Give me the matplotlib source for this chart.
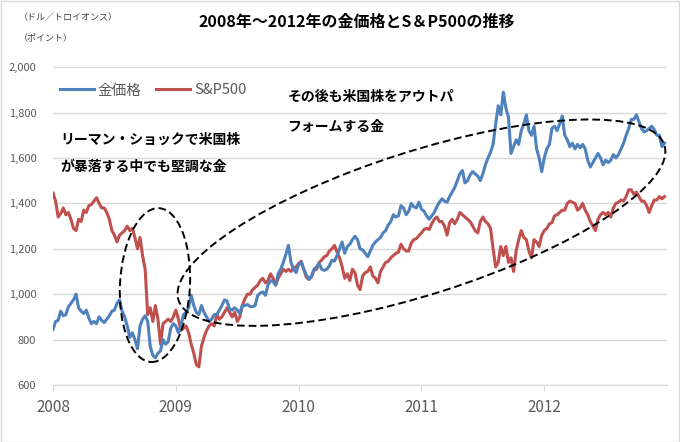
import numpy as np
import matplotlib
matplotlib.use("Agg")
from matplotlib import pyplot as plt
from matplotlib.patches import Ellipse, Rectangle
from matplotlib.transforms import IdentityTransform

plt.rcParams['font.family'] = ['Noto Sans CJK JP', 'DejaVu Sans']

# weekly-ish readings (4 per month), per year
years = [2008, 2009, 2010, 2011, 2012]

gold_2008 = [845, 880, 885, 925, 905, 910, 945, 960, 975, 1000, 940, 925,
             915, 930, 895, 870, 880, 870, 900, 885, 875, 890, 905, 925,
             930, 960, 975, 925, 900, 860, 810, 830, 800, 760, 860, 890,
             905, 880, 770, 730, 720, 740, 750, 800, 780, 790, 850, 870]
gold_2009 = [860, 830, 860, 910, 920, 940, 995, 950, 920, 910, 950, 920,
             900, 880, 890, 910, 910, 930, 950, 975, 970, 935, 930, 940,
             930, 915, 950, 950, 955, 945, 945, 950, 995, 1005, 1010, 995,
             1040, 1060, 1055, 1040, 1090, 1110, 1140, 1175, 1215, 1140, 1110, 1095]
gold_2010 = [1130, 1140, 1110, 1085, 1065, 1080, 1110, 1120, 1135, 1110, 1105, 1110,
             1125, 1150, 1145, 1170, 1200, 1230, 1180, 1210, 1220, 1240, 1255, 1240,
             1200, 1195, 1180, 1165, 1190, 1215, 1230, 1240, 1250, 1270, 1280, 1305,
             1320, 1350, 1340, 1345, 1390, 1380, 1350, 1365, 1400, 1385, 1380, 1405]
gold_2011 = [1375, 1365, 1345, 1330, 1345, 1360, 1385, 1405, 1420, 1410, 1405, 1430,
             1450, 1470, 1500, 1530, 1545, 1490, 1500, 1525, 1540, 1530, 1520, 1500,
             1530, 1570, 1600, 1625, 1660, 1750, 1830, 1790, 1890, 1820, 1780, 1620,
             1650, 1680, 1660, 1720, 1750, 1790, 1720, 1700, 1740, 1640, 1600, 1540]
gold_2012 = [1600, 1640, 1660, 1730, 1740, 1720, 1750, 1785, 1700, 1680, 1650, 1665,
             1640, 1660, 1645, 1660, 1640, 1590, 1560, 1580, 1600, 1620, 1600, 1570,
             1590, 1580, 1590, 1615, 1600, 1615, 1640, 1665, 1700, 1730, 1770, 1770,
             1790, 1760, 1730, 1715, 1720, 1730, 1740, 1725, 1700, 1700, 1650, 1665]

sp_2008 = [1445, 1410, 1340, 1355, 1380, 1350, 1360, 1330, 1290, 1280, 1330, 1320,
           1370, 1360, 1390, 1395, 1410, 1425, 1400, 1380, 1380, 1360, 1330, 1280,
           1260, 1230, 1260, 1270, 1280, 1300, 1280, 1290, 1250, 1200, 1250, 1170,
           1110, 910, 940, 880, 950, 890, 780, 870, 880, 890, 880, 900]
sp_2009 = [930, 890, 840, 850, 860, 830, 780, 740, 690, 680, 770, 810,
           840, 860, 870, 860, 910, 890, 900, 920, 940, 920, 900, 920,
           880, 900, 950, 980, 1000, 1000, 1020, 1030, 1040, 1060, 1070, 1050,
           1060, 1090, 1070, 1040, 1070, 1090, 1110, 1100, 1110, 1100, 1115, 1120]
sp_2010 = [1135, 1145, 1110, 1075, 1065, 1075, 1105, 1110, 1140, 1150, 1165, 1170,
           1190, 1200, 1215, 1185, 1160, 1120, 1070, 1090, 1060, 1110, 1095, 1040,
           1020, 1080, 1095, 1100, 1120, 1080, 1070, 1050, 1100, 1120, 1140, 1145,
           1160, 1170, 1180, 1185, 1220, 1200, 1190, 1190, 1225, 1240, 1245, 1258]
sp_2011 = [1270, 1285, 1290, 1285, 1310, 1330, 1340, 1320, 1320, 1300, 1260, 1315,
           1330, 1310, 1330, 1360, 1350, 1340, 1330, 1320, 1300, 1280, 1270, 1320,
           1340, 1320, 1310, 1290, 1200, 1120, 1140, 1210, 1170, 1210, 1140, 1160,
           1100, 1190, 1240, 1280, 1250, 1240, 1190, 1160, 1240, 1230, 1210, 1260]
sp_2012 = [1280, 1290, 1310, 1315, 1345, 1350, 1360, 1370, 1370, 1400, 1410, 1405,
           1400, 1370, 1380, 1400, 1370, 1350, 1320, 1300, 1280, 1330, 1350, 1360,
           1350, 1360, 1340, 1380, 1400, 1405, 1415, 1410, 1430, 1460, 1460, 1440,
           1450, 1430, 1410, 1410, 1390, 1360, 1390, 1415, 1415, 1430, 1420, 1430]

gold = np.array(gold_2008 + gold_2009 + gold_2010 + gold_2011 + gold_2012)
sp = np.array(sp_2008 + sp_2009 + sp_2010 + sp_2011 + sp_2012)
x = years[0] + np.arange(len(gold)) / 48.0

blue = '#4F81BD'
red = '#C0504D'

fig = plt.figure(figsize=(6.8, 4.42), dpi=100)
ax = fig.add_axes([0.078, 0.129, 0.903, 0.719])

ax.plot(x, gold, color=blue, lw=2.2, label='金価格', zorder=3)
ax.plot(x, sp, color=red, lw=2.2, label='S&P500', zorder=2)

ax.set_xlim(2008, 2013)
ax.set_ylim(600, 2000)
ax.set_yticks(range(600, 2001, 200))
ax.set_yticklabels(['{:,}'.format(v) for v in range(600, 2001, 200)], fontsize=8, color='#595959')
ax.set_xticks(years)
ax.set_xticklabels([str(y) for y in years], fontsize=11, color='#595959')
ax.tick_params(axis='y', length=0, pad=12)
ax.tick_params(axis='x', length=4, color='#d9d9d9', pad=6)
ax.grid(axis='y', color='#d9d9d9', lw=1)
ax.set_axisbelow(True)
for s in ['left', 'right', 'top']:
    ax.spines[s].set_visible(False)
ax.spines['bottom'].set_color('#d9d9d9')

leg = ax.legend(loc='upper left', bbox_to_anchor=(-0.01, 0.99), ncol=2, frameon=False,
                fontsize=10.5, handlelength=2.3, columnspacing=1.0, handletextpad=0.3)
for t in leg.get_texts():
    t.set_color('#595959')

fig.text(0.525, 0.95, '2008年～2012年の金価格とS＆P500の推移', ha='center', va='center',
         fontsize=11.5, fontweight='bold')
fig.text(0.028, 0.96, '（ドル／トロイオンス）', fontsize=6.5, color='#404040', va='center')
fig.text(0.028, 0.915, '（ポイント）', fontsize=6.5, color='#404040', va='center')

fig.text(0.423, 0.78, 'その後も米国株をアウトパ', fontsize=10, fontweight='bold', va='center')
fig.text(0.423, 0.712, 'フォームする金', fontsize=10, fontweight='bold', va='center')
fig.text(0.088, 0.683, 'リーマン・ショックで米国株', fontsize=10, fontweight='bold', va='center')
fig.text(0.088, 0.622, 'が暴落する中でも堅調な金', fontsize=10, fontweight='bold', va='center')

# dashed ellipses, sized in pixels around data anchor points
fig.canvas.draw()
c_small = ax.transData.transform((2008.83, 1040))
c_big = ax.transData.transform((2011.0, 1315))
ax.add_patch(Ellipse(c_small, 70, 154, angle=-3, transform=IdentityTransform(),
                     fill=False, ls=(0, (4, 2)), lw=1.4, color='black', zorder=5))
ax.add_patch(Ellipse(c_big, 510, 143, angle=17.7, transform=IdentityTransform(),
                     fill=False, ls=(0, (4, 2)), lw=1.4, color='black', zorder=5))

fig.patches.append(Rectangle((0.001, 0.001), 0.997, 0.997, transform=fig.transFigure,
                             fill=False, edgecolor='#d9d9d9', lw=1))

fig.savefig('out.png', dpi=100)
